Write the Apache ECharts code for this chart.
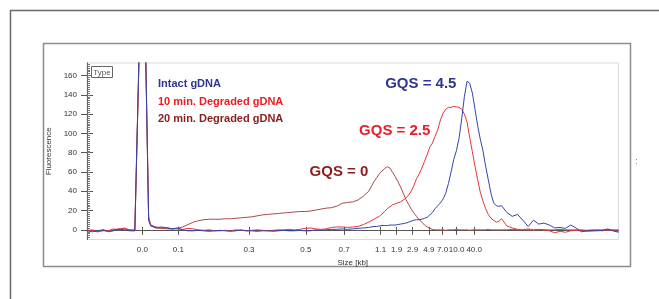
<!DOCTYPE html>
<html>
<head>
<meta charset="utf-8">
<script src="https://cdn.jsdelivr.net/npm/echarts@6/dist/echarts.min.js"></script>
<style>
html,body{margin:0;padding:0;background:#fff;}
#chart{width:659px;height:299px;}
</style>
</head>
<body>
<div id="chart"></div>
<script>
// ---- Data (x = migration position, arbitrary units) ----
const migration = [
  0,1,2,3,4,5,6,7,8,9,
  9.1,9.8,10.4,11,11.6,
  12,13,14,15,16,17,18,19,20,21,22,23,24,25,26,27,28,29,30,31,32,33,34,35,36,37,38,39,40,41,42,43,44,45,46,47,48,49,50,51,52,53,
  54,54.5,55,55.5,56,56.5,57,57.5,58,58.5,59,59.5,60,60.5,61,61.5,62,62.5,63,63.5,64,64.5,65,65.5,66,66.5,67,67.5,68,68.5,69,69.5,70,70.5,71,71.5,72,72.5,73,73.5,74,74.5,75,75.5,76,76.5,77,77.5,78,
  79,80,81,82,83,84,85,86,87,88,89,90,91,92,93,94,95,96,97,98,99,100
];
const intact = [
  -1,-2,-1,0,-2,-1,1,0,-1,-1,
  0,185,360,195,10,
  4.5,2,3,2,1,2,0,-1,-1,-0.5,-1,-1.5,-1,-0.5,-1,-1.5,-1,0,-1,-1,-1.5,-1,-1,-1.5,-1,-0.5,-1,-1,-0.5,-1,-1,0,-0.5,0,0.5,0.5,1,0.5,1,1.5,2,2.5,
  3.5,3.5,4,4.5,4.5,4.5,5,5,5,5.5,6,6.5,7,8,9,10,10.5,10.5,11,12,13,15.5,18,22,25,28,32,38,48,60,73,82,95,115,138,154,152,142,125,108,94,82,66,52,38,28,25,24.5,25,
  18,14,16,10,3.5,10,6,7,5,2,2.5,1.5,5,2,-2,-1,-1,-1,-0.5,1,-1,-2.5
];
const degraded10 = [
  0,-1,-2,-1,-1,1,0,2,0,-1,
  0,180,355,200,14,
  5,3,2,2.5,1,1,0.5,1.5,1,0,-0.5,0,-1,-1,-0.5,-1,0,-0.5,-1,-0.5,0,-0.5,-1,-0.5,0,0,0.5,0,0.5,1.5,2,1,0.5,1,2.5,3,3,2.5,3,3.5,5.5,8,
  11,12.5,14,16.5,19,22,24,26,27,28,29,31,33,36,40,46,53,58,64,71,78,86,90,97,104,114,121,125,127,127,128,127.5,127,125,120,112,96,81,66,52,39,30,22,16,12,10,8,9,11.5,
  4,2,0.5,0,1,0,0.5,0,-1,-3,-1.5,-2.5,-1,-0.5,-1,-1.5,-1,-0.5,-1,0,-1,-1.5
];
const degraded20 = [
  -1,0,-2,0,-1,0,1,1,0,0,
  0,180,350,190,10,
  4,2,1.5,1,1,1.5,3,5.5,8,9.5,10.5,11,11,11,11.5,11.5,12,12.5,13,13.5,14.5,15.5,16,16.5,17,17.5,18,18.5,19,19,19.5,20.5,21.5,22.5,23,24.5,27.5,28.5,29,31,35,40,
  50,54,58,61,63.5,65.5,64,59.5,55,50,44.5,38,31.5,26.5,21.5,17.5,14,10.5,8,5,3,1.5,0.5,0,0,0,0,-0.5,0,0,0,0.5,0,0,0,0,-0.5,0,0,0,0,0,0,0.5,0,0,0,0,0,
  0,0.5,0,0,0,-0.5,0,0,0,0,0.5,0,0,0,0,-0.5,0,0,0,0,0,0
];
const sizeLabels = ['0.0','0.1','0.3','0.5','0.7','1.1','1.9','2.9','4.9','7.0','10.0','40.0'];
const sizePositions = [10.41,17.19,30.48,41.16,48.37,55.23,58.24,61.25,64.32,66.90,69.53,72.85];
const yTicks = [0,20,40,60,80,100,120,140,160];
const seriesNames = ['Intact gDNA','10 min. Degraded gDNA','20 min. Degraded gDNA'];
const gqsTexts = ['GQS = 4.5','GQS = 2.5','GQS = 0'];
const gqsX = [62.8,57.9,47.4];
const gqsY = [151,102.3,60.5];

// ---- Styles ----
const lineColors = ['#3344aa','#e8333a','#a84a4a'];
const textColors = ['#2e3592','#ec1c24','#8c1c1c'];
const FONT = "'Liberation Sans', Arial, sans-serif";

const yMinor = [];
for (let v = -8; v <= 172; v += 2) yMinor.push(v);

function pairs(ys){ return migration.map((x,i)=>[x, ys[i]]); }
function sizeLabel(v){
  let best = 0, d = Infinity;
  sizePositions.forEach((p,i)=>{ if (Math.abs(p-v) < d){ d = Math.abs(p-v); best = i; } });
  return sizeLabels[best];
}

const chart = echarts.init(document.getElementById('chart'), null, {renderer:'canvas'});
const axisCol = '#555';
const option = {
  animation:false,
  backgroundColor:'#fff',
  textStyle:{fontFamily:FONT},
  grid:{left:87, right:40.5, top:63, bottom:59.5, show:true, borderColor:'#dadada', borderWidth:1, backgroundColor:'#fff'},
  legend:{
    orient:'vertical', left:147, top:73, selectedMode:false,
    icon:'rect', itemWidth:1, itemHeight:12, itemGap:5.7,
    itemStyle:{opacity:0}, lineStyle:{opacity:0},
    textStyle:{fontFamily:FONT, fontWeight:'bold', fontSize:11},
    data: seriesNames.map((n,i)=>({name:n, textStyle:{color:textColors[i]}}))
  },
  xAxis:[
    {type:'value', min:0, max:100, position:'bottom',
     axisLine:{show:true, lineStyle:{color:axisCol, width:1}},
     axisTick:{show:true, customValues:sizePositions, length:5, lineStyle:{color:axisCol}},
     axisLabel:{show:true, customValues:sizePositions, formatter:sizeLabel, margin:6, fontSize:8, color:'#333', fontFamily:FONT},
     splitLine:{show:false},
     name:'Size [kb]', nameLocation:'middle', nameGap:10,
     nameTextStyle:{fontSize:8, color:'#333', fontFamily:FONT}},
    {type:'value', min:0, max:100, position:'bottom',
     axisLine:{show:false},
     axisTick:{show:true, inside:true, customValues:sizePositions, length:3, lineStyle:{color:axisCol}},
     axisLabel:{show:false}, splitLine:{show:false}}
  ],
  yAxis:[
    {type:'value', min:-10, max:173, position:'left',
     axisLine:{show:true, lineStyle:{color:axisCol, width:1}},
     axisTick:{show:true, customValues:yTicks, length:6, lineStyle:{color:axisCol}},
     axisLabel:{show:true, customValues:yTicks, margin:10, fontSize:8, color:'#333', fontFamily:FONT},
     splitLine:{show:false},
     name:'Fluorescence', nameLocation:'middle', nameGap:26, nameRotate:90,
     nameTextStyle:{fontSize:8, color:'#333', fontFamily:FONT}},
    {type:'value', min:-10, max:173, position:'left',
     axisLine:{show:false},
     axisTick:{show:true, inside:true, customValues:yTicks, length:6, lineStyle:{color:axisCol}},
     axisLabel:{show:false}, splitLine:{show:false}},
    {type:'value', min:-10, max:173, position:'left',
     axisLine:{show:false},
     axisTick:{show:true, inside:true, customValues:yMinor, length:3, lineStyle:{color:'#777'}},
     axisLabel:{show:false}, splitLine:{show:false}}
  ],
  series:[
    {name:seriesNames[2], type:'line', data:pairs(degraded20), showSymbol:false, symbol:'none',
     lineStyle:{width:1, color:lineColors[2]}, itemStyle:{color:lineColors[2]}, clip:true},
    {name:seriesNames[1], type:'line', data:pairs(degraded10), showSymbol:false, symbol:'none',
     lineStyle:{width:1, color:lineColors[1]}, itemStyle:{color:lineColors[1]}, clip:true},
    {name:seriesNames[0], type:'line', data:pairs(intact), showSymbol:false, symbol:'none',
     lineStyle:{width:1, color:lineColors[0]}, itemStyle:{color:lineColors[0]}, clip:true}
  ]
};
chart.setOption(option);

const gqsColors = [textColors[0], textColors[1], textColors[2]];
const annotations = gqsTexts.map((t,i)=>{
  const p = chart.convertToPixel({xAxisIndex:0, yAxisIndex:0}, [gqsX[i], gqsY[i]]);
  return {type:'text', x:p[0], y:p[1], z:100,
    style:{text:t, fill:gqsColors[i], font:"bold 15px " + FONT, textAlign:'center', textVerticalAlign:'middle'}};
});

chart.setOption({graphic:[
  {type:'rect', z:-10, shape:{x:10.5, y:10.5, width:700, height:400}, style:{fill:null, stroke:'#6a6a6a', lineWidth:1.5}},
  {type:'rect', z:-10, shape:{x:43.5, y:43.5, width:587, height:223}, style:{fill:null, stroke:'#8c8c8c', lineWidth:1.5}},
  {type:'rect', z:100, shape:{x:91.5, y:66.5, width:21, height:11}, style:{fill:'#fff', stroke:'#666', lineWidth:1}},
  {type:'text', z:101, x:102, y:72.3, style:{text:'Type', fill:'#555', font:"8px " + FONT, textAlign:'center', textVerticalAlign:'middle'}},
  {type:'text', z:100, x:636.5, y:162, style:{text:':', fill:'#b07070', font:"9px " + FONT, textAlign:'center', textVerticalAlign:'middle'}}
].concat(annotations)});
</script>
</body>
</html>
